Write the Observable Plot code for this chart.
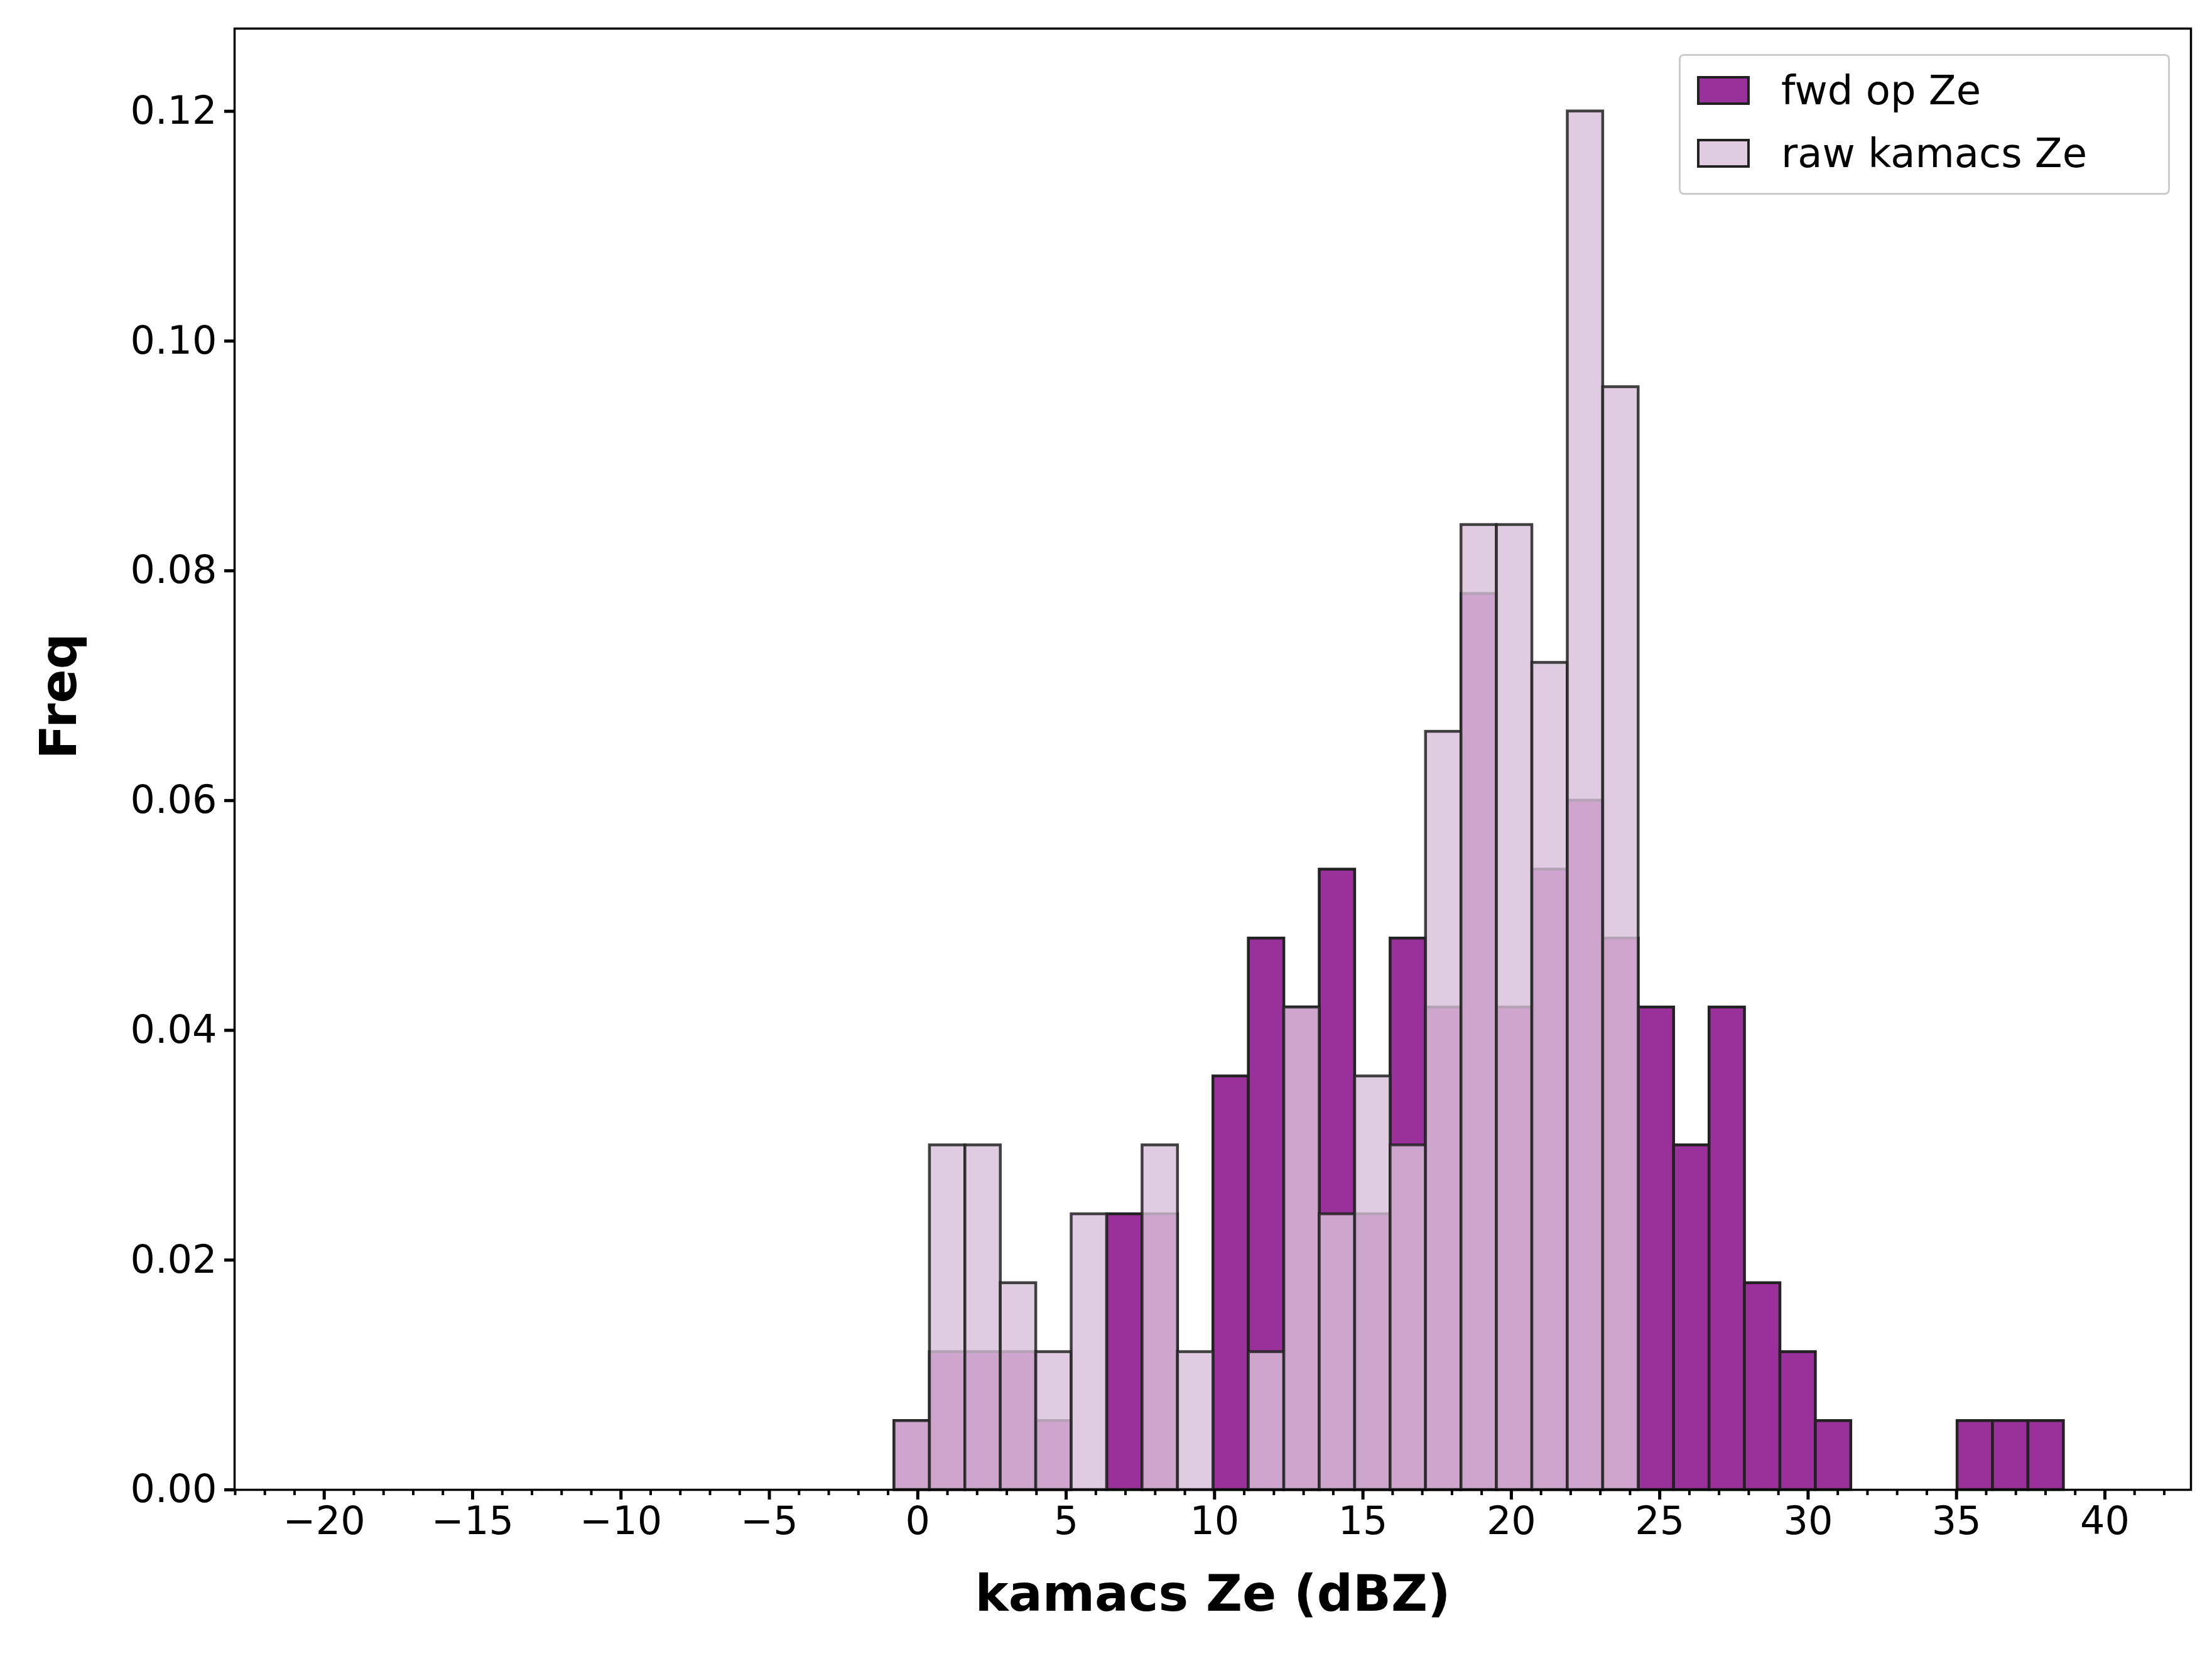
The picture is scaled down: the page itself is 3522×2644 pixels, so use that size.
<!DOCTYPE html>
<html><head><meta charset="utf-8">
<script src="https://cdn.jsdelivr.net/npm/d3@7"></script>
<script src="https://cdn.jsdelivr.net/npm/@observablehq/plot@0.6"></script>
<style>
body{margin:0;background:#fff;font-family:"DejaVu Sans",sans-serif;}
#wrap{position:relative;width:3522px;height:2644px;}
#legend{position:absolute;left:2673px;top:86px;width:782px;height:224px;border:3px solid #ccc;border-radius:8px;background:#fff;box-sizing:border-box;font-size:64px;}
.item{position:absolute;left:26px;display:flex;align-items:center;}
.sw{width:84px;height:46px;border:4px solid #222;box-sizing:border-box;margin-right:50px;}
</style></head><body>
<div id="wrap"><div id="chart"></div>
<div id="legend">
<div class="item" style="top:18px"><div class="sw" style="background:#9a309a"></div>fwd op Ze</div>
<div class="item" style="top:118px"><div class="sw" style="background:#e0cce0"></div>raw kamacs Ze</div>
</div></div>
<script>
const binStart = -0.79, binWidth = 1.194;
const fwdFreq = [0.006,0.012,0.012,0.012,0.006,0,0.024,0.024,0,0.036,0.048,0.042,0.054,0.024,0.048,0.042,0.078,0.042,0.054,0.060,0.048,0.042,0.030,0.042,0.018,0.012,0.006,0,0,0,0.006,0.006,0.006];
const rawFreq = [0.006,0.030,0.030,0.018,0.012,0.024,0,0.030,0.012,0,0.012,0.042,0.024,0.036,0.030,0.066,0.084,0.084,0.072,0.120,0.096,0,0,0,0,0,0,0,0,0,0,0,0];
const xMajor = d3.range(-20,41,5);
const xMinor = d3.range(-23,43,1);
const yTicks = [0,0.02,0.04,0.06,0.08,0.10,0.12];
const mk = a => a.map((v,i)=>({x1:binStart+i*binWidth,x2:binStart+(i+1)*binWidth,y:v})).filter(d=>d.y>0);
const fmt = v => (v<0?"\u2212":"")+Math.abs(v);
const p = Plot.plot({
  width:3522,height:2644,marginLeft:373,marginRight:34,marginTop:45,marginBottom:273,
  style:{fontFamily:"DejaVu Sans",fontSize:"62px",color:"#000",background:"#fff"},
  x:{domain:[-23.02,42.9]},
  y:{domain:[0,0.1272]},
  marks:[
    Plot.rectY(mk(fwdFreq),{x1:"x1",x2:"x2",y:"y",fill:"#9a309a",stroke:"#222",strokeWidth:4.5}),
    Plot.rectY(mk(rawFreq),{x1:"x1",x2:"x2",y:"y",fill:"rgb(217,192,217)",fillOpacity:0.81,stroke:"#222",strokeOpacity:0.85,strokeWidth:4.5}),
    Plot.frame({stroke:"#000",strokeWidth:3.5}),
    Plot.axisX({ticks:xMinor,tickFormat:()=>"",tickSize:9,strokeWidth:4,label:null}),
    Plot.axisX({ticks:xMajor,tickFormat:fmt,tickSize:16,strokeWidth:5,tickPadding:10,fontSize:62,label:null}),
    Plot.axisY({ticks:yTicks,tickFormat:d3.format(".2f"),tickSize:16,strokeWidth:5,tickPadding:12,fontSize:62,label:null}),
    Plot.text(["kamacs Ze (dBZ)"],{frameAnchor:"bottom",dy:192,fontSize:80,fontWeight:"bold"}),
    Plot.text(["Freq"],{frameAnchor:"left",dx:-278,rotate:-90,fontSize:80,fontWeight:"bold"})
  ]
});
document.getElementById("chart").appendChild(p);
</script></body></html>
